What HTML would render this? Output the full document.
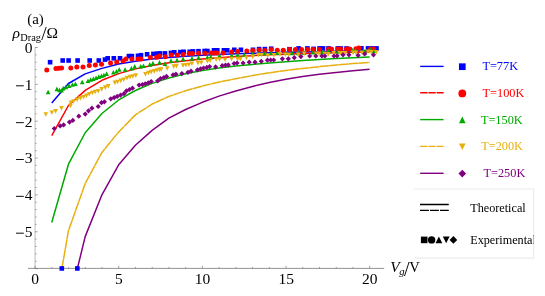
<!DOCTYPE html>
<html><head><meta charset="utf-8"><title>plot</title>
<style>
html,body{margin:0;padding:0;background:#fff;}
body{width:545px;height:296px;overflow:hidden;}
svg{display:block;}
text{font-family:"Liberation Serif",serif;}
</style></head><body>
<svg width="545" height="296" viewBox="0 0 545 296">
<rect width="545" height="296" fill="#fff"/>
<defs><clipPath id="cp"><rect x="28" y="30" width="360" height="238.8"/></clipPath></defs>

<g stroke="#666" stroke-width="0.7" fill="none">
<path d="M35.05 47.3V268.4" stroke="#a0a0a0"/>
<path d="M28 268.4H384.2"/>
</g>
<g stroke="#666" stroke-width="0.6" fill="none">
<path d="M35.10 268.4v-2.6"/>
<path d="M51.83 268.4v-1.5"/>
<path d="M68.56 268.4v-1.5"/>
<path d="M85.29 268.4v-1.5"/>
<path d="M102.02 268.4v-1.5"/>
<path d="M118.75 268.4v-2.6"/>
<path d="M135.48 268.4v-1.5"/>
<path d="M152.21 268.4v-1.5"/>
<path d="M168.94 268.4v-1.5"/>
<path d="M185.67 268.4v-1.5"/>
<path d="M202.40 268.4v-2.6"/>
<path d="M219.13 268.4v-1.5"/>
<path d="M235.86 268.4v-1.5"/>
<path d="M252.59 268.4v-1.5"/>
<path d="M269.32 268.4v-1.5"/>
<path d="M286.05 268.4v-2.6"/>
<path d="M302.78 268.4v-1.5"/>
<path d="M319.51 268.4v-1.5"/>
<path d="M336.24 268.4v-1.5"/>
<path d="M352.97 268.4v-1.5"/>
<path d="M369.70 268.4v-2.6"/>
<path d="M35.1 47.50h2.6"/>
<path d="M35.1 54.87h1.5"/>
<path d="M35.1 62.24h1.5"/>
<path d="M35.1 69.61h1.5"/>
<path d="M35.1 76.98h1.5"/>
<path d="M35.1 84.35h2.6"/>
<path d="M35.1 91.72h1.5"/>
<path d="M35.1 99.09h1.5"/>
<path d="M35.1 106.46h1.5"/>
<path d="M35.1 113.83h1.5"/>
<path d="M35.1 121.20h2.6"/>
<path d="M35.1 128.57h1.5"/>
<path d="M35.1 135.94h1.5"/>
<path d="M35.1 143.31h1.5"/>
<path d="M35.1 150.68h1.5"/>
<path d="M35.1 158.05h2.6"/>
<path d="M35.1 165.42h1.5"/>
<path d="M35.1 172.79h1.5"/>
<path d="M35.1 180.16h1.5"/>
<path d="M35.1 187.53h1.5"/>
<path d="M35.1 194.90h2.6"/>
<path d="M35.1 202.27h1.5"/>
<path d="M35.1 209.64h1.5"/>
<path d="M35.1 217.01h1.5"/>
<path d="M35.1 224.38h1.5"/>
<path d="M35.1 231.75h2.6"/>
<path d="M35.1 239.12h1.5"/>
<path d="M35.1 246.49h1.5"/>
<path d="M35.1 253.86h1.5"/>
<path d="M35.1 261.23h1.5"/>
<path d="M35.1 268.60h2.6"/>
</g>
<g clip-path="url(#cp)">
<rect x="47.80" y="59.90" width="4.60" height="4.60" fill="#0000ff"/>
<rect x="60.40" y="58.20" width="4.60" height="4.60" fill="#0000ff"/>
<rect x="66.30" y="58.20" width="4.60" height="4.60" fill="#0000ff"/>
<rect x="75.30" y="58.20" width="4.60" height="4.60" fill="#0000ff"/>
<rect x="87.40" y="58.20" width="4.60" height="4.60" fill="#0000ff"/>
<rect x="96.50" y="58.20" width="4.60" height="4.60" fill="#0000ff"/>
<rect x="102.70" y="57.30" width="4.60" height="4.60" fill="#0000ff"/>
<rect x="105.40" y="56.00" width="4.60" height="4.60" fill="#0000ff"/>
<rect x="111.50" y="56.00" width="4.60" height="4.60" fill="#0000ff"/>
<rect x="117.70" y="56.00" width="4.60" height="4.60" fill="#0000ff"/>
<rect x="126.60" y="53.80" width="4.60" height="4.60" fill="#0000ff"/>
<rect x="129.60" y="53.80" width="4.60" height="4.60" fill="#0000ff"/>
<rect x="135.70" y="53.50" width="4.60" height="4.60" fill="#0000ff"/>
<rect x="138.70" y="52.90" width="4.60" height="4.60" fill="#0000ff"/>
<rect x="144.80" y="52.00" width="4.60" height="4.60" fill="#0000ff"/>
<rect x="151.10" y="51.60" width="4.60" height="4.60" fill="#0000ff"/>
<rect x="155.00" y="51.30" width="4.60" height="4.60" fill="#0000ff"/>
<rect x="157.70" y="51.10" width="4.60" height="4.60" fill="#0000ff"/>
<rect x="162.70" y="51.10" width="4.60" height="4.60" fill="#0000ff"/>
<rect x="168.70" y="50.60" width="4.60" height="4.60" fill="#0000ff"/>
<rect x="172.00" y="50.00" width="4.60" height="4.60" fill="#0000ff"/>
<rect x="178.10" y="49.80" width="4.60" height="4.60" fill="#0000ff"/>
<rect x="181.40" y="49.50" width="4.60" height="4.60" fill="#0000ff"/>
<rect x="187.40" y="49.50" width="4.60" height="4.60" fill="#0000ff"/>
<rect x="190.70" y="49.10" width="4.60" height="4.60" fill="#0000ff"/>
<rect x="196.20" y="48.90" width="4.60" height="4.60" fill="#0000ff"/>
<rect x="202.30" y="48.70" width="4.60" height="4.60" fill="#0000ff"/>
<rect x="205.10" y="48.70" width="4.60" height="4.60" fill="#0000ff"/>
<rect x="211.70" y="48.00" width="4.60" height="4.60" fill="#0000ff"/>
<rect x="215.00" y="48.00" width="4.60" height="4.60" fill="#0000ff"/>
<rect x="221.60" y="48.00" width="4.60" height="4.60" fill="#0000ff"/>
<rect x="224.90" y="48.00" width="4.60" height="4.60" fill="#0000ff"/>
<rect x="232.00" y="47.50" width="4.60" height="4.60" fill="#0000ff"/>
<rect x="238.60" y="47.50" width="4.60" height="4.60" fill="#0000ff"/>
<rect x="250.70" y="47.50" width="4.60" height="4.60" fill="#0000ff"/>
<rect x="256.80" y="46.80" width="4.60" height="4.60" fill="#0000ff"/>
<rect x="262.60" y="46.80" width="4.60" height="4.60" fill="#0000ff"/>
<rect x="268.90" y="46.40" width="4.60" height="4.60" fill="#0000ff"/>
<rect x="287.20" y="46.90" width="4.60" height="4.60" fill="#0000ff"/>
<rect x="296.30" y="46.10" width="4.60" height="4.60" fill="#0000ff"/>
<rect x="305.10" y="46.10" width="4.60" height="4.60" fill="#0000ff"/>
<rect x="311.30" y="46.60" width="4.60" height="4.60" fill="#0000ff"/>
<rect x="317.30" y="46.10" width="4.60" height="4.60" fill="#0000ff"/>
<rect x="320.70" y="46.10" width="4.60" height="4.60" fill="#0000ff"/>
<rect x="326.20" y="46.10" width="4.60" height="4.60" fill="#0000ff"/>
<rect x="335.50" y="46.10" width="4.60" height="4.60" fill="#0000ff"/>
<rect x="338.50" y="46.20" width="4.60" height="4.60" fill="#0000ff"/>
<rect x="344.20" y="46.20" width="4.60" height="4.60" fill="#0000ff"/>
<rect x="359.10" y="46.00" width="4.60" height="4.60" fill="#0000ff"/>
<rect x="365.70" y="46.10" width="4.60" height="4.60" fill="#0000ff"/>
<rect x="370.00" y="46.10" width="4.60" height="4.60" fill="#0000ff"/>
<rect x="374.20" y="46.10" width="4.60" height="4.60" fill="#0000ff"/>
<path d="M51.73 103.10L68.46 83.50L85.19 73.89L101.92 68.40L118.65 63.94L135.38 61.16L152.11 59.11L168.84 57.55L185.57 56.31L202.30 55.32L219.03 54.51L235.76 53.83L252.49 53.26L269.22 52.77L285.95 52.35L302.68 51.98L319.41 51.66L336.14 51.37L352.87 51.12L369.60 50.89" fill="none" stroke="#0000ff" stroke-width="1.5" stroke-linejoin="round"/>
<circle cx="46.80" cy="69.90" r="2.50" fill="#ff0000"/>
<circle cx="55.90" cy="68.50" r="2.50" fill="#ff0000"/>
<circle cx="58.90" cy="68.20" r="2.50" fill="#ff0000"/>
<circle cx="61.60" cy="68.10" r="2.50" fill="#ff0000"/>
<circle cx="70.80" cy="68.10" r="2.50" fill="#ff0000"/>
<circle cx="76.80" cy="66.90" r="2.50" fill="#ff0000"/>
<circle cx="83.00" cy="66.90" r="2.50" fill="#ff0000"/>
<circle cx="89.30" cy="65.50" r="2.50" fill="#ff0000"/>
<circle cx="95.40" cy="65.10" r="2.50" fill="#ff0000"/>
<circle cx="101.50" cy="64.20" r="2.50" fill="#ff0000"/>
<circle cx="110.50" cy="62.90" r="2.50" fill="#ff0000"/>
<circle cx="116.70" cy="62.00" r="2.50" fill="#ff0000"/>
<circle cx="123.10" cy="60.90" r="2.50" fill="#ff0000"/>
<circle cx="125.90" cy="59.10" r="2.50" fill="#ff0000"/>
<circle cx="131.90" cy="59.10" r="2.50" fill="#ff0000"/>
<circle cx="138.00" cy="59.10" r="2.50" fill="#ff0000"/>
<circle cx="141.00" cy="59.10" r="2.50" fill="#ff0000"/>
<circle cx="150.40" cy="57.60" r="2.50" fill="#ff0000"/>
<circle cx="156.70" cy="57.20" r="2.50" fill="#ff0000"/>
<circle cx="159.50" cy="56.10" r="2.50" fill="#ff0000"/>
<circle cx="165.30" cy="56.70" r="2.50" fill="#ff0000"/>
<circle cx="171.30" cy="55.10" r="2.50" fill="#ff0000"/>
<circle cx="177.40" cy="55.10" r="2.50" fill="#ff0000"/>
<circle cx="183.10" cy="54.50" r="2.50" fill="#ff0000"/>
<circle cx="189.20" cy="53.60" r="2.50" fill="#ff0000"/>
<circle cx="192.50" cy="53.60" r="2.50" fill="#ff0000"/>
<circle cx="198.50" cy="53.20" r="2.50" fill="#ff0000"/>
<circle cx="204.90" cy="53.20" r="2.50" fill="#ff0000"/>
<circle cx="210.90" cy="52.90" r="2.50" fill="#ff0000"/>
<circle cx="214.00" cy="52.90" r="2.50" fill="#ff0000"/>
<circle cx="217.00" cy="52.90" r="2.50" fill="#ff0000"/>
<circle cx="223.10" cy="53.10" r="2.50" fill="#ff0000"/>
<circle cx="231.60" cy="52.00" r="2.50" fill="#ff0000"/>
<circle cx="237.60" cy="51.40" r="2.50" fill="#ff0000"/>
<circle cx="246.80" cy="50.90" r="2.50" fill="#ff0000"/>
<circle cx="252.80" cy="50.50" r="2.50" fill="#ff0000"/>
<circle cx="259.10" cy="50.10" r="2.50" fill="#ff0000"/>
<circle cx="264.90" cy="50.50" r="2.50" fill="#ff0000"/>
<circle cx="271.20" cy="49.40" r="2.50" fill="#ff0000"/>
<circle cx="277.30" cy="50.30" r="2.50" fill="#ff0000"/>
<circle cx="283.30" cy="50.30" r="2.50" fill="#ff0000"/>
<circle cx="289.40" cy="49.60" r="2.50" fill="#ff0000"/>
<circle cx="295.40" cy="49.60" r="2.50" fill="#ff0000"/>
<circle cx="301.50" cy="49.60" r="2.50" fill="#ff0000"/>
<circle cx="307.30" cy="49.40" r="2.50" fill="#ff0000"/>
<circle cx="313.00" cy="49.40" r="2.50" fill="#ff0000"/>
<circle cx="319.40" cy="49.40" r="2.50" fill="#ff0000"/>
<circle cx="328.50" cy="48.90" r="2.50" fill="#ff0000"/>
<circle cx="331.50" cy="48.90" r="2.50" fill="#ff0000"/>
<circle cx="337.80" cy="48.90" r="2.50" fill="#ff0000"/>
<circle cx="340.50" cy="48.90" r="2.50" fill="#ff0000"/>
<circle cx="346.50" cy="49.00" r="2.50" fill="#ff0000"/>
<circle cx="349.80" cy="48.90" r="2.50" fill="#ff0000"/>
<circle cx="355.90" cy="48.80" r="2.50" fill="#ff0000"/>
<circle cx="358.90" cy="48.00" r="2.50" fill="#ff0000"/>
<circle cx="370.60" cy="48.90" r="2.50" fill="#ff0000"/>
<circle cx="373.70" cy="48.90" r="2.50" fill="#ff0000"/>
<path d="M51.73 135.69L68.46 105.49L85.19 90.33L101.92 80.31L118.65 73.61L135.38 68.88L152.11 65.40L168.84 62.75L185.57 60.68L202.30 59.03L219.03 57.69L235.76 56.58L252.49 55.66L269.22 54.87L285.95 54.20L302.68 53.62L319.41 53.12L336.14 52.68L352.87 52.29L369.60 51.94" fill="none" stroke="#ff0000" stroke-width="1.5" stroke-linejoin="round"/>
<path d="M48.10 89.70L50.40 94.30L45.80 94.30Z" fill="#00aa00"/>
<path d="M56.90 86.60L59.20 91.20L54.60 91.20Z" fill="#00aa00"/>
<path d="M59.50 87.70L61.80 92.30L57.20 92.30Z" fill="#00aa00"/>
<path d="M61.50 88.00L63.80 92.60L59.20 92.60Z" fill="#00aa00"/>
<path d="M63.30 85.80L65.60 90.40L61.00 90.40Z" fill="#00aa00"/>
<path d="M66.00 84.70L68.30 89.30L63.70 89.30Z" fill="#00aa00"/>
<path d="M69.10 83.50L71.40 88.10L66.80 88.10Z" fill="#00aa00"/>
<path d="M72.40 82.20L74.70 86.80L70.10 86.80Z" fill="#00aa00"/>
<path d="M75.40 81.50L77.70 86.10L73.10 86.10Z" fill="#00aa00"/>
<path d="M82.20 79.70L84.50 84.30L79.90 84.30Z" fill="#00aa00"/>
<path d="M88.00 78.40L90.30 83.00L85.70 83.00Z" fill="#00aa00"/>
<path d="M90.70 77.20L93.00 81.80L88.40 81.80Z" fill="#00aa00"/>
<path d="M93.40 76.30L95.70 80.90L91.10 80.90Z" fill="#00aa00"/>
<path d="M96.10 75.40L98.40 80.00L93.80 80.00Z" fill="#00aa00"/>
<path d="M98.80 74.30L101.10 78.90L96.50 78.90Z" fill="#00aa00"/>
<path d="M101.50 73.40L103.80 78.00L99.20 78.00Z" fill="#00aa00"/>
<path d="M103.90 72.70L106.20 77.30L101.60 77.30Z" fill="#00aa00"/>
<path d="M106.60 71.30L108.90 75.90L104.30 75.90Z" fill="#00aa00"/>
<path d="M113.40 70.00L115.70 74.60L111.10 74.60Z" fill="#00aa00"/>
<path d="M116.50 68.90L118.80 73.50L114.20 73.50Z" fill="#00aa00"/>
<path d="M119.30 67.20L121.60 71.80L117.00 71.80Z" fill="#00aa00"/>
<path d="M125.10 67.20L127.40 71.80L122.80 71.80Z" fill="#00aa00"/>
<path d="M131.40 65.90L133.70 70.50L129.10 70.50Z" fill="#00aa00"/>
<path d="M134.70 64.10L137.00 68.70L132.40 68.70Z" fill="#00aa00"/>
<path d="M140.70 63.90L143.00 68.50L138.40 68.50Z" fill="#00aa00"/>
<path d="M143.50 63.40L145.80 68.00L141.20 68.00Z" fill="#00aa00"/>
<path d="M149.80 62.10L152.10 66.70L147.50 66.70Z" fill="#00aa00"/>
<path d="M152.90 60.80L155.20 65.40L150.60 65.40Z" fill="#00aa00"/>
<path d="M159.50 60.10L161.80 64.70L157.20 64.70Z" fill="#00aa00"/>
<path d="M165.00 61.30L167.30 65.90L162.70 65.90Z" fill="#00aa00"/>
<path d="M171.00 58.30L173.30 62.90L168.70 62.90Z" fill="#00aa00"/>
<path d="M177.00 57.70L179.30 62.30L174.70 62.30Z" fill="#00aa00"/>
<path d="M183.10 56.60L185.40 61.20L180.80 61.20Z" fill="#00aa00"/>
<path d="M192.00 56.10L194.30 60.70L189.70 60.70Z" fill="#00aa00"/>
<path d="M198.50 55.30L200.80 59.90L196.20 59.90Z" fill="#00aa00"/>
<path d="M207.40 55.00L209.70 59.60L205.10 59.60Z" fill="#00aa00"/>
<path d="M210.70 54.60L213.00 59.20L208.40 59.20Z" fill="#00aa00"/>
<path d="M219.50 53.20L221.80 57.80L217.20 57.80Z" fill="#00aa00"/>
<path d="M231.60 53.00L233.90 57.60L229.30 57.60Z" fill="#00aa00"/>
<path d="M237.60 52.40L239.90 57.00L235.30 57.00Z" fill="#00aa00"/>
<path d="M244.20 52.40L246.50 57.00L241.90 57.00Z" fill="#00aa00"/>
<path d="M252.80 51.30L255.10 55.90L250.50 55.90Z" fill="#00aa00"/>
<path d="M259.10 51.10L261.40 55.70L256.80 55.70Z" fill="#00aa00"/>
<path d="M264.90 50.80L267.20 55.40L262.60 55.40Z" fill="#00aa00"/>
<path d="M271.20 50.40L273.50 55.00L268.90 55.00Z" fill="#00aa00"/>
<path d="M277.30 50.40L279.60 55.00L275.00 55.00Z" fill="#00aa00"/>
<path d="M285.50 50.40L287.80 55.00L283.20 55.00Z" fill="#00aa00"/>
<path d="M292.10 50.60L294.40 55.20L289.80 55.20Z" fill="#00aa00"/>
<path d="M298.20 50.60L300.50 55.20L295.90 55.20Z" fill="#00aa00"/>
<path d="M304.20 50.40L306.50 55.00L301.90 55.00Z" fill="#00aa00"/>
<path d="M313.00 49.90L315.30 54.50L310.70 54.50Z" fill="#00aa00"/>
<path d="M322.40 49.90L324.70 54.50L320.10 54.50Z" fill="#00aa00"/>
<path d="M328.50 48.80L330.80 53.40L326.20 53.40Z" fill="#00aa00"/>
<path d="M337.80 48.80L340.10 53.40L335.50 53.40Z" fill="#00aa00"/>
<path d="M352.60 47.90L354.90 52.50L350.30 52.50Z" fill="#00aa00"/>
<path d="M355.60 47.90L357.90 52.50L353.30 52.50Z" fill="#00aa00"/>
<path d="M364.70 49.00L367.00 53.60L362.40 53.60Z" fill="#00aa00"/>
<path d="M370.70 47.30L373.00 51.90L368.40 51.90Z" fill="#00aa00"/>
<path d="M374.00 48.40L376.30 53.00L371.70 53.00Z" fill="#00aa00"/>
<path d="M51.73 222.50L68.46 164.20L85.19 132.75L101.92 113.48L118.65 99.97L135.38 90.50L152.11 83.34L168.84 78.00L185.57 73.81L202.30 70.52L219.03 68.05L235.76 66.04L252.49 64.38L269.22 63.01L285.95 61.66L302.68 60.49L319.41 59.47L336.14 58.58L352.87 57.79L369.60 57.09" fill="none" stroke="#00aa00" stroke-width="1.5" stroke-linejoin="round"/>
<path d="M45.80 116.80L48.10 112.20L43.50 112.20Z" fill="#e6b00f"/>
<path d="M51.90 115.10L54.20 110.50L49.60 110.50Z" fill="#e6b00f"/>
<path d="M55.60 113.70L57.90 109.10L53.30 109.10Z" fill="#e6b00f"/>
<path d="M61.50 110.70L63.80 106.10L59.20 106.10Z" fill="#e6b00f"/>
<path d="M70.50 108.30L72.80 103.70L68.20 103.70Z" fill="#e6b00f"/>
<path d="M70.90 105.20L73.20 100.60L68.60 100.60Z" fill="#e6b00f"/>
<path d="M73.40 103.80L75.70 99.20L71.10 99.20Z" fill="#e6b00f"/>
<path d="M77.10 102.10L79.40 97.50L74.80 97.50Z" fill="#e6b00f"/>
<path d="M80.40 100.70L82.70 96.10L78.10 96.10Z" fill="#e6b00f"/>
<path d="M83.50 99.60L85.80 95.00L81.20 95.00Z" fill="#e6b00f"/>
<path d="M86.40 98.20L88.70 93.60L84.10 93.60Z" fill="#e6b00f"/>
<path d="M89.20 96.50L91.50 91.90L86.90 91.90Z" fill="#e6b00f"/>
<path d="M92.30 95.30L94.60 90.70L90.00 90.70Z" fill="#e6b00f"/>
<path d="M95.10 94.30L97.40 89.70L92.80 89.70Z" fill="#e6b00f"/>
<path d="M98.20 93.50L100.50 88.90L95.90 88.90Z" fill="#e6b00f"/>
<path d="M101.70 91.70L104.00 87.10L99.40 87.10Z" fill="#e6b00f"/>
<path d="M105.30 89.90L107.60 85.30L103.00 85.30Z" fill="#e6b00f"/>
<path d="M108.30 88.60L110.60 84.00L106.00 84.00Z" fill="#e6b00f"/>
<path d="M114.90 85.20L117.20 80.60L112.60 80.60Z" fill="#e6b00f"/>
<path d="M117.60 84.30L119.90 79.70L115.30 79.70Z" fill="#e6b00f"/>
<path d="M120.70 83.20L123.00 78.60L118.40 78.60Z" fill="#e6b00f"/>
<path d="M123.70 82.10L126.00 77.50L121.40 77.50Z" fill="#e6b00f"/>
<path d="M127.00 80.50L129.30 75.90L124.70 75.90Z" fill="#e6b00f"/>
<path d="M130.00 79.40L132.30 74.80L127.70 74.80Z" fill="#e6b00f"/>
<path d="M132.80 78.80L135.10 74.20L130.50 74.20Z" fill="#e6b00f"/>
<path d="M135.80 77.90L138.10 73.30L133.50 73.30Z" fill="#e6b00f"/>
<path d="M145.40 76.60L147.70 72.00L143.10 72.00Z" fill="#e6b00f"/>
<path d="M148.50 75.30L150.80 70.70L146.20 70.70Z" fill="#e6b00f"/>
<path d="M151.20 74.40L153.50 69.80L148.90 69.80Z" fill="#e6b00f"/>
<path d="M154.20 73.70L156.50 69.10L151.90 69.10Z" fill="#e6b00f"/>
<path d="M157.00 72.80L159.30 68.20L154.70 68.20Z" fill="#e6b00f"/>
<path d="M159.50 72.20L161.80 67.60L157.20 67.60Z" fill="#e6b00f"/>
<path d="M161.10 71.90L163.40 67.30L158.80 67.30Z" fill="#e6b00f"/>
<path d="M167.20 70.80L169.50 66.20L164.90 66.20Z" fill="#e6b00f"/>
<path d="M173.80 68.90L176.10 64.30L171.50 64.30Z" fill="#e6b00f"/>
<path d="M176.50 68.40L178.80 63.80L174.20 63.80Z" fill="#e6b00f"/>
<path d="M183.10 67.80L185.40 63.20L180.80 63.20Z" fill="#e6b00f"/>
<path d="M185.90 67.50L188.20 62.90L183.60 62.90Z" fill="#e6b00f"/>
<path d="M188.90 67.00L191.20 62.40L186.60 62.40Z" fill="#e6b00f"/>
<path d="M191.90 66.00L194.20 61.40L189.60 61.40Z" fill="#e6b00f"/>
<path d="M198.00 65.40L200.30 60.80L195.70 60.80Z" fill="#e6b00f"/>
<path d="M201.30 65.10L203.60 60.50L199.00 60.50Z" fill="#e6b00f"/>
<path d="M207.40 63.70L209.70 59.10L205.10 59.10Z" fill="#e6b00f"/>
<path d="M210.10 62.90L212.40 58.30L207.80 58.30Z" fill="#e6b00f"/>
<path d="M216.20 61.80L218.50 57.20L213.90 57.20Z" fill="#e6b00f"/>
<path d="M219.50 61.80L221.80 57.20L217.20 57.20Z" fill="#e6b00f"/>
<path d="M225.00 62.00L227.30 57.40L222.70 57.40Z" fill="#e6b00f"/>
<path d="M231.60 61.40L233.90 56.80L229.30 56.80Z" fill="#e6b00f"/>
<path d="M237.60 61.40L239.90 56.80L235.30 56.80Z" fill="#e6b00f"/>
<path d="M240.40 61.40L242.70 56.80L238.10 56.80Z" fill="#e6b00f"/>
<path d="M246.40 60.30L248.70 55.70L244.10 55.70Z" fill="#e6b00f"/>
<path d="M252.80 59.20L255.10 54.60L250.50 54.60Z" fill="#e6b00f"/>
<path d="M258.50 57.60L260.80 53.00L256.20 53.00Z" fill="#e6b00f"/>
<path d="M261.60 57.60L263.90 53.00L259.30 53.00Z" fill="#e6b00f"/>
<path d="M267.60 58.10L269.90 53.50L265.30 53.50Z" fill="#e6b00f"/>
<path d="M274.00 57.60L276.30 53.00L271.70 53.00Z" fill="#e6b00f"/>
<path d="M280.00 56.70L282.30 52.10L277.70 52.10Z" fill="#e6b00f"/>
<path d="M285.50 57.00L287.80 52.40L283.20 52.40Z" fill="#e6b00f"/>
<path d="M288.80 57.00L291.10 52.40L286.50 52.40Z" fill="#e6b00f"/>
<path d="M298.20 57.00L300.50 52.40L295.90 52.40Z" fill="#e6b00f"/>
<path d="M304.20 56.10L306.50 51.50L301.90 51.50Z" fill="#e6b00f"/>
<path d="M316.20 56.10L318.50 51.50L313.90 51.50Z" fill="#e6b00f"/>
<path d="M319.00 56.10L321.30 51.50L316.70 51.50Z" fill="#e6b00f"/>
<path d="M324.80 56.10L327.10 51.50L322.50 51.50Z" fill="#e6b00f"/>
<path d="M328.30 56.70L330.60 52.10L326.00 52.10Z" fill="#e6b00f"/>
<path d="M333.70 55.50L336.00 50.90L331.40 50.90Z" fill="#e6b00f"/>
<path d="M340.00 55.50L342.30 50.90L337.70 50.90Z" fill="#e6b00f"/>
<path d="M342.80 55.50L345.10 50.90L340.50 50.90Z" fill="#e6b00f"/>
<path d="M345.20 55.50L347.50 50.90L342.90 50.90Z" fill="#e6b00f"/>
<path d="M353.10 55.20L355.40 50.60L350.80 50.60Z" fill="#e6b00f"/>
<path d="M355.90 55.00L358.20 50.40L353.60 50.40Z" fill="#e6b00f"/>
<path d="M361.90 55.20L364.20 50.60L359.60 50.60Z" fill="#e6b00f"/>
<path d="M368.00 54.10L370.30 49.50L365.70 49.50Z" fill="#e6b00f"/>
<path d="M371.30 54.70L373.60 50.10L369.00 50.10Z" fill="#e6b00f"/>
<path d="M376.30 54.70L378.60 50.10L374.00 50.10Z" fill="#e6b00f"/>
<path d="M51.73 327.21L68.46 230.71L85.19 183.57L101.92 152.41L118.65 132.01L135.38 114.88L152.11 104.02L168.84 96.50L185.57 90.70L202.30 86.10L219.03 82.10L235.76 78.70L252.49 75.60L269.22 72.80L285.95 70.40L302.68 68.40L319.41 66.60L336.14 65.00L352.87 63.60L369.60 62.30" fill="none" stroke="#e6b00f" stroke-width="1.5" stroke-linejoin="round" stroke-dasharray="9.6 0.3"/>
<path d="M54.30 125.90L56.90 128.50L54.30 131.10L51.70 128.50Z" fill="#800080"/>
<path d="M60.20 123.30L62.80 125.90L60.20 128.50L57.60 125.90Z" fill="#800080"/>
<path d="M63.60 122.30L66.20 124.90L63.60 127.50L61.00 124.90Z" fill="#800080"/>
<path d="M69.50 119.50L72.10 122.10L69.50 124.70L66.90 122.10Z" fill="#800080"/>
<path d="M72.80 117.80L75.40 120.40L72.80 123.00L70.20 120.40Z" fill="#800080"/>
<path d="M78.80 113.60L81.40 116.20L78.80 118.80L76.20 116.20Z" fill="#800080"/>
<path d="M85.20 111.50L87.80 114.10L85.20 116.70L82.60 114.10Z" fill="#800080"/>
<path d="M88.50 108.20L91.10 110.80L88.50 113.40L85.90 110.80Z" fill="#800080"/>
<path d="M91.90 105.60L94.50 108.20L91.90 110.80L89.30 108.20Z" fill="#800080"/>
<path d="M98.20 103.90L100.80 106.50L98.20 109.10L95.60 106.50Z" fill="#800080"/>
<path d="M101.50 100.10L104.10 102.70L101.50 105.30L98.90 102.70Z" fill="#800080"/>
<path d="M104.40 99.20L107.00 101.80L104.40 104.40L101.80 101.80Z" fill="#800080"/>
<path d="M110.80 96.20L113.40 98.80L110.80 101.40L108.20 98.80Z" fill="#800080"/>
<path d="M114.20 95.00L116.80 97.60L114.20 100.20L111.60 97.60Z" fill="#800080"/>
<path d="M117.20 93.80L119.80 96.40L117.20 99.00L114.60 96.40Z" fill="#800080"/>
<path d="M120.60 92.50L123.20 95.10L120.60 97.70L118.00 95.10Z" fill="#800080"/>
<path d="M124.00 91.10L126.60 93.70L124.00 96.30L121.40 93.70Z" fill="#800080"/>
<path d="M126.40 88.30L129.00 90.90L126.40 93.50L123.80 90.90Z" fill="#800080"/>
<path d="M129.50 86.90L132.10 89.50L129.50 92.10L126.90 89.50Z" fill="#800080"/>
<path d="M132.50 85.60L135.10 88.20L132.50 90.80L129.90 88.20Z" fill="#800080"/>
<path d="M139.10 82.50L141.70 85.10L139.10 87.70L136.50 85.10Z" fill="#800080"/>
<path d="M142.40 82.00L145.00 84.60L142.40 87.20L139.80 84.60Z" fill="#800080"/>
<path d="M145.20 81.20L147.80 83.80L145.20 86.40L142.60 83.80Z" fill="#800080"/>
<path d="M148.20 80.30L150.80 82.90L148.20 85.50L145.60 82.90Z" fill="#800080"/>
<path d="M151.20 79.00L153.80 81.60L151.20 84.20L148.60 81.60Z" fill="#800080"/>
<path d="M157.70 78.20L160.30 80.80L157.70 83.40L155.10 80.80Z" fill="#800080"/>
<path d="M160.50 76.00L163.10 78.60L160.50 81.20L157.90 78.60Z" fill="#800080"/>
<path d="M163.80 74.90L166.40 77.50L163.80 80.10L161.20 77.50Z" fill="#800080"/>
<path d="M166.50 73.80L169.10 76.40L166.50 79.00L163.90 76.40Z" fill="#800080"/>
<path d="M173.10 72.30L175.70 74.90L173.10 77.50L170.50 74.90Z" fill="#800080"/>
<path d="M175.90 71.60L178.50 74.20L175.90 76.80L173.30 74.20Z" fill="#800080"/>
<path d="M181.90 71.00L184.50 73.60L181.90 76.20L179.30 73.60Z" fill="#800080"/>
<path d="M188.00 69.70L190.60 72.30L188.00 74.90L185.40 72.30Z" fill="#800080"/>
<path d="M191.00 68.60L193.60 71.20L191.00 73.80L188.40 71.20Z" fill="#800080"/>
<path d="M197.40 67.30L200.00 69.90L197.40 72.50L194.80 69.90Z" fill="#800080"/>
<path d="M200.60 66.20L203.20 68.80L200.60 71.40L198.00 68.80Z" fill="#800080"/>
<path d="M203.50 65.40L206.10 68.00L203.50 70.60L200.90 68.00Z" fill="#800080"/>
<path d="M206.80 64.80L209.40 67.40L206.80 70.00L204.20 67.40Z" fill="#800080"/>
<path d="M209.60 64.00L212.20 66.60L209.60 69.20L207.00 66.60Z" fill="#800080"/>
<path d="M215.60 64.30L218.20 66.90L215.60 69.50L213.00 66.90Z" fill="#800080"/>
<path d="M222.20 63.10L224.80 65.70L222.20 68.30L219.60 65.70Z" fill="#800080"/>
<path d="M225.50 62.60L228.10 65.20L225.50 67.80L222.90 65.20Z" fill="#800080"/>
<path d="M228.30 62.30L230.90 64.90L228.30 67.50L225.70 64.90Z" fill="#800080"/>
<path d="M234.10 60.90L236.70 63.50L234.10 66.10L231.50 63.50Z" fill="#800080"/>
<path d="M237.10 60.40L239.70 63.00L237.10 65.60L234.50 63.00Z" fill="#800080"/>
<path d="M243.10 60.40L245.70 63.00L243.10 65.60L240.50 63.00Z" fill="#800080"/>
<path d="M249.20 59.60L251.80 62.20L249.20 64.80L246.60 62.20Z" fill="#800080"/>
<path d="M255.00 59.60L257.60 62.20L255.00 64.80L252.40 62.20Z" fill="#800080"/>
<path d="M261.30 58.70L263.90 61.30L261.30 63.90L258.70 61.30Z" fill="#800080"/>
<path d="M267.40 57.60L270.00 60.20L267.40 62.80L264.80 60.20Z" fill="#800080"/>
<path d="M270.70 57.40L273.30 60.00L270.70 62.60L268.10 60.00Z" fill="#800080"/>
<path d="M273.70 57.40L276.30 60.00L273.70 62.60L271.10 60.00Z" fill="#800080"/>
<path d="M282.40 56.20L285.00 58.80L282.40 61.40L279.80 58.80Z" fill="#800080"/>
<path d="M288.30 56.20L290.90 58.80L288.30 61.40L285.70 58.80Z" fill="#800080"/>
<path d="M294.30 55.10L296.90 57.70L294.30 60.30L291.70 57.70Z" fill="#800080"/>
<path d="M300.90 54.00L303.50 56.60L300.90 59.20L298.30 56.60Z" fill="#800080"/>
<path d="M309.70 53.40L312.30 56.00L309.70 58.60L307.10 56.00Z" fill="#800080"/>
<path d="M315.80 53.40L318.40 56.00L315.80 58.60L313.20 56.00Z" fill="#800080"/>
<path d="M321.90 53.40L324.50 56.00L321.90 58.60L319.30 56.00Z" fill="#800080"/>
<path d="M324.90 53.40L327.50 56.00L324.90 58.60L322.30 56.00Z" fill="#800080"/>
<path d="M334.00 53.40L336.60 56.00L334.00 58.60L331.40 56.00Z" fill="#800080"/>
<path d="M337.10 53.20L339.70 55.80L337.10 58.40L334.50 55.80Z" fill="#800080"/>
<path d="M343.00 52.20L345.60 54.80L343.00 57.40L340.40 54.80Z" fill="#800080"/>
<path d="M348.90 52.20L351.50 54.80L348.90 57.40L346.30 54.80Z" fill="#800080"/>
<path d="M358.10 52.70L360.70 55.30L358.10 57.90L355.50 55.30Z" fill="#800080"/>
<path d="M364.70 51.40L367.30 54.00L364.70 56.60L362.10 54.00Z" fill="#800080"/>
<path d="M373.50 52.20L376.10 54.80L373.50 57.40L370.90 54.80Z" fill="#800080"/>
<path d="M51.73 447.85L68.46 305.11L85.19 236.61L101.92 194.80L118.65 164.79L135.38 145.19L152.11 130.39L168.84 118.20L185.57 109.52L202.30 102.32L219.03 96.15L235.76 91.00L252.49 86.43L269.22 82.57L285.95 79.31L302.68 76.55L319.41 74.31L336.14 72.55L352.87 70.81L369.60 69.27" fill="none" stroke="#800080" stroke-width="1.5" stroke-linejoin="round"/>
</g>
<rect x="59.50" y="266.15" width="4.60" height="4.60" fill="#0000ff"/>
<rect x="75.05" y="266.15" width="4.60" height="4.60" fill="#0000ff"/>
<path d="M420.2 66.40H443.6" stroke="#0000ff" stroke-width="1.4"/>
<rect x="458.95" y="63.35" width="6.70" height="6.70" fill="#0000ff"/>
<path d="M420.2 92.80H443.6" stroke="#ff0000" stroke-width="1.4" stroke-dasharray="7.3 0.9"/>
<circle cx="462.30" cy="93.40" r="3.90" fill="#ff0000"/>
<path d="M420.2 119.60H443.6" stroke="#00aa00" stroke-width="1.4"/>
<path d="M462.30 116.60L465.60 123.20L459.00 123.20Z" fill="#00aa00"/>
<path d="M420.2 146.40H443.6" stroke="#e6b00f" stroke-width="1.4" stroke-dasharray="7.3 0.9"/>
<path d="M462.30 150.00L465.60 143.40L459.00 143.40Z" fill="#e6b00f"/>
<path d="M420.2 173.30H443.6" stroke="#800080" stroke-width="1.4"/>
<path d="M462.30 169.80L466.10 173.60L462.30 177.40L458.50 173.60Z" fill="#800080"/>
<defs><clipPath id="lb"><rect x="414.3" y="188.9" width="119.4" height="69.5"/></clipPath></defs>
<path d="M413.8 189H533.7V258.2H413.8" fill="none" stroke="#ececec" stroke-width="1.2"/>
<g clip-path="url(#lb)">
<path d="M420 204.5H448.8" stroke="#000" stroke-width="1.4"/>
<path d="M420 210.35H448.8" stroke="#000" stroke-width="1.4" stroke-dasharray="8.9 1.1"/>
<rect x="420.90" y="236.60" width="6.60" height="6.60" fill="#000"/>
<circle cx="431.60" cy="239.90" r="3.70" fill="#000"/>
<path d="M438.90 236.50L442.30 243.30L435.50 243.30Z" fill="#000"/>
<path d="M446.20 243.30L449.60 236.50L442.80 236.50Z" fill="#000"/>
<path d="M453.40 236.10L457.20 239.90L453.40 243.70L449.60 239.90Z" fill="#000"/>
</g>
<g style="will-change:transform">
<g font-size="15.5" fill="#000">
<text x="35.20" y="284.2" text-anchor="middle">0</text>
<text x="118.85" y="284.2" text-anchor="middle">5</text>
<text x="202.50" y="284.2" text-anchor="middle">10</text>
<text x="286.15" y="284.2" text-anchor="middle">15</text>
<text x="369.80" y="284.2" text-anchor="middle">20</text>
<text x="32.5" y="52.90" text-anchor="end">0</text>
<text x="32.5" y="89.75" text-anchor="end">1</text>
<path d="M16 85.80H23.8" stroke="#000" stroke-width="0.95" fill="none"/>
<text x="32.5" y="126.60" text-anchor="end">2</text>
<path d="M16 122.65H23.8" stroke="#000" stroke-width="0.95" fill="none"/>
<text x="32.5" y="163.45" text-anchor="end">3</text>
<path d="M16 159.50H23.8" stroke="#000" stroke-width="0.95" fill="none"/>
<text x="32.5" y="200.30" text-anchor="end">4</text>
<path d="M16 196.35H23.8" stroke="#000" stroke-width="0.95" fill="none"/>
<text x="32.5" y="237.15" text-anchor="end">5</text>
<path d="M16 233.20H23.8" stroke="#000" stroke-width="0.95" fill="none"/>
</g>
<text x="27.2" y="23.7" font-size="14.9">(a)</text>
<text x="12.4" y="38.2" font-size="15.5" font-style="italic">ρ</text>
<text x="20.3" y="40.8" font-size="10.4">Drag</text>
<text x="41.2" y="40.1" font-size="19.5">/</text>
<text x="46.6" y="38.2" font-size="15.5">Ω</text>
<text x="390.2" y="271.8" font-size="15.5" font-style="italic">V</text>
<text x="399.2" y="275.2" font-size="10.6" font-style="italic">g</text>
<text x="404.1" y="275.6" font-size="20">/</text>
<text x="409.3" y="271.8" font-size="14.6">V</text>
<text x="482.4" y="70.4" font-size="12.3" fill="#0000ff">T=77K</text>
<text x="482.6" y="96.8" font-size="12.3" fill="#ff0000">T=100K</text>
<text x="480.9" y="123.6" font-size="12.3" fill="#00aa00">T=150K</text>
<text x="481.2" y="150.4" font-size="12.3" fill="#e6b00f">T=200K</text>
<text x="483.5" y="177.3" font-size="12.3" fill="#800080">T=250K</text>
<text x="470.2" y="211.8" font-size="12.2">Theoretical</text>
<text clip-path="url(#lb)" x="470.2" y="243.6" font-size="12.2">Experimental</text>
</g>
</svg></body></html>
